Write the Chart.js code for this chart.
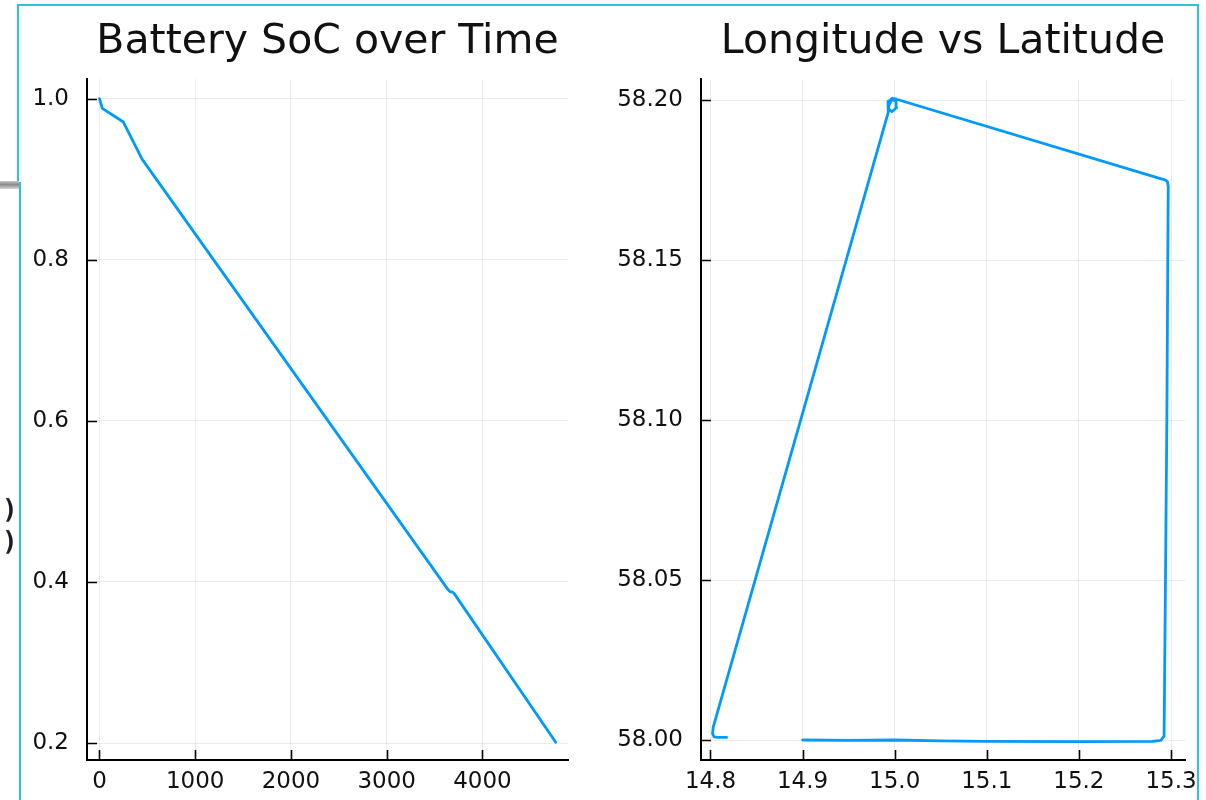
<!DOCTYPE html>
<html>
<head>
<meta charset="utf-8">
<script src="https://cdn.jsdelivr.net/npm/chart.js@4/dist/chart.umd.min.js"></script>
<style>
    body { margin: 0; background: #fff; width: 1206px; height: 800px; overflow: hidden; position: relative; font-family: "DejaVu Sans", sans-serif; }
    canvas { position: absolute; top: 0; }
    #socChart { left: 0; }
    #posChart { left: 600px; }
    .frame { position: absolute; background: #27c6d8; }
    .paren { position: absolute; left: 2px; font: bold 26px "DejaVu Sans Mono", monospace; color: #1c1c2a; }
</style>
</head>
<body>
<canvas id="socChart" width="600" height="800"></canvas>
<canvas id="posChart" width="606" height="800"></canvas>

<!-- screenshot frame bits -->
<div class="frame" style="left:18px; top:4px; width:1181px; height:2px;"></div>
<div class="frame" style="left:1197px; top:4px; width:2px; height:796px;"></div>
<div style="position:absolute; left:1199px; top:0; width:7px; height:800px; background:#fff;"></div>
<div class="frame" style="left:17px; top:4px; width:2px; height:178px;"></div>
<div class="frame" style="left:19px; top:182px; width:2px; height:618px;"></div>
<div style="position:absolute; left:0; top:181px; width:19px; height:8px; background:linear-gradient(#c8c8c8, #8a8a8a 45%, #d6d6d6);"></div>
<span class="paren" style="top:494px;">)</span>
<span class="paren" style="top:526px;">)</span>

<script>
// battery state of charge
const timeS = [0, 30, 250, 445, 3640, 3660, 3685, 3705, 4765]
const soc = [1.0, 0.988, 0.971, 0.925, 0.3905, 0.388, 0.3875, 0.3855, 0.201]
const timeTicks = [0, 1000, 2000, 3000, 4000]
const timeLabels = ['0', '1000', '2000', '3000', '4000']
const socTicks = [0.2, 0.4, 0.6, 0.8, 1.0]
const socLabels = ['0.2', '0.4', '0.6', '0.8', '1.0']

// track
const lon = [14.900, 14.950, 15.000, 15.050, 15.100, 15.200, 15.280, 15.2890, 15.2925, 15.2940, 15.2955, 15.2965, 15.2970, 15.2962, 15.2940,
    15.0020, 14.9975, 14.9930, 14.9928, 14.9970, 15.0022, 15.0015, 14.9970, 14.9938, 14.9930,
    14.8030, 14.8022, 14.8040, 14.8080, 14.8175]
const lat = [58.0000, 57.9999, 58.0000, 57.9997, 57.9996, 57.9995, 57.9996, 57.9999, 58.0012, 58.0500, 58.1000, 58.1500, 58.1730, 58.1745, 58.1750,
    58.2003, 58.2006, 58.1996, 58.1975, 58.1964, 58.1977, 58.1997, 58.2002, 58.1985, 58.1962,
    58.0040, 58.0020, 58.0010, 58.0008, 58.0008]
const lonTicks = [14.8, 14.9, 15.0, 15.1, 15.2, 15.3]
const lonLabels = ['14.8', '14.9', '15.0', '15.1', '15.2', '15.3']
const latTicks = [58.00, 58.05, 58.10, 58.15, 58.20]
const latLabels = ['58.00', '58.05', '58.10', '58.15', '58.20']

const lineColor = '#009AFA'
const fontFam = '"DejaVu Sans", sans-serif'
const gridColor = 'rgba(0,0,0,0.08)'

// julia style ticks pointing into the plot
const innerTicks = {
    id: 'innerTicks',
    afterDatasetsDraw(chart) {
        const {ctx, chartArea, scales} = chart
        ctx.save()
        ctx.strokeStyle = '#000'
        ctx.lineWidth = 1.6
        ctx.beginPath()
        scales.x.ticks.forEach(t => {
            const px = Math.round(scales.x.getPixelForValue(t.value)) + 0.5
            ctx.moveTo(px, chartArea.bottom)
            ctx.lineTo(px, chartArea.bottom - 10)
        })
        scales.y.ticks.forEach(t => {
            const py = Math.round(scales.y.getPixelForValue(t.value)) + 0.5
            ctx.moveTo(chartArea.left, py)
            ctx.lineTo(chartArea.left + 10, py)
        })
        ctx.stroke()
        ctx.restore()
    }
}

function makeChart(id, title, xs, ys, xr, yr, xT, xL, yT, yL, yWidth, padRight) {
    const pts = xs.map((v, i) => ({x: v, y: ys[i]}))
    return new Chart(document.getElementById(id), {
        type: 'scatter',
        data: {
            datasets: [{
                data: pts,
                showLine: true,
                borderColor: lineColor,
                backgroundColor: lineColor,
                borderWidth: 2.8,
                borderJoinStyle: 'round',
                borderCapStyle: 'round',
                pointRadius: 0,
                tension: 0
            }]
        },
        options: {
            responsive: false,
            animation: false,
            layout: {padding: {left: 0, right: padRight, top: 0, bottom: 0}},
            plugins: {
                legend: {display: false},
                tooltip: {enabled: false},
                title: {
                    display: true,
                    text: title,
                    fullSize: false,
                    color: '#111',
                    font: {family: fontFam, size: 41, weight: 'normal'},
                    padding: {top: 18, bottom: 12}
                }
            },
            scales: {
                x: {
                    type: 'linear',
                    min: xr[0], max: xr[1],
                    afterBuildTicks: s => { s.ticks = xT.map(v => ({value: v})) },
                    afterFit: s => { s.height = 40 },
                    grid: {color: gridColor, drawTicks: false},
                    border: {color: '#000', width: 2},
                    ticks: {
                        color: '#111', padding: 8, maxRotation: 0, autoSkip: false,
                        font: {family: fontFam, size: 23},
                        callback: (v, i) => xL[i]
                    }
                },
                y: {
                    type: 'linear',
                    min: yr[0], max: yr[1],
                    afterBuildTicks: s => { s.ticks = yT.map(v => ({value: v})) },
                    afterFit: s => { s.width = yWidth },
                    grid: {color: gridColor, drawTicks: false},
                    border: {color: '#000', width: 2},
                    ticks: {
                        color: '#111', padding: 18, autoSkip: false,
                        font: {family: fontFam, size: 23},
                        callback: (v, i) => yL[i]
                    }
                }
            }
        },
        plugins: [innerTicks]
    })
}

makeChart('socChart', 'Battery SoC over Time', timeS, soc, [-130, 4893], [0.1789, 1.0242],
    timeTicks, timeLabels, socTicks, socLabels, 87, 32)
makeChart('posChart', 'Longitude vs Latitude', lon, lat, [14.7897, 15.3152], [57.99375, 58.20656],
    lonTicks, lonLabels, latTicks, latLabels, 101, 21)
</script>
</body>
</html>
